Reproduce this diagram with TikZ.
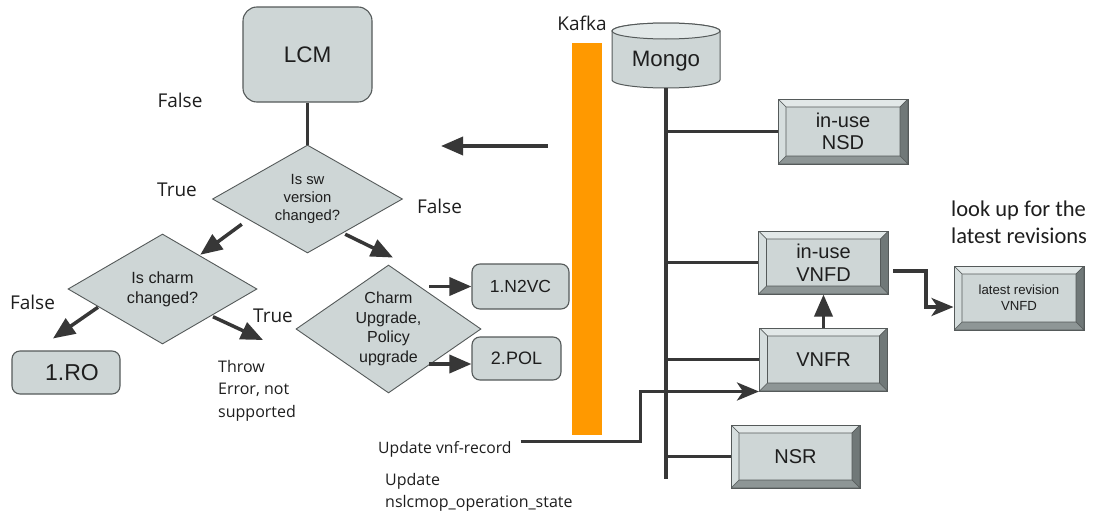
\documentclass[tikz,border=0pt]{standalone}
\usepackage{fontspec}
\setmainfont{Liberation Sans}
\newfontfamily\labelfont{Open Sans}
\newfontfamily\notefont{Carlito}
\usetikzlibrary{shapes.geometric,arrows.meta}

\definecolor{boxgray}{RGB}{206,214,214}
\definecolor{edgegray}{RGB}{85,90,90}
\definecolor{bevtop}{RGB}{226,232,232}
\definecolor{bevleft}{RGB}{214,222,222}
\definecolor{bevright}{RGB}{112,120,120}
\definecolor{bevbottom}{RGB}{142,150,150}
\definecolor{linegray}{RGB}{55,55,55}
\definecolor{kafkaorange}{RGB}{255,153,0}
\definecolor{textgray}{RGB}{30,30,30}

\tikzset{
  roundbox/.style={draw=edgegray, line width=1.1pt, fill=boxgray, rounded corners=8pt,
    inner sep=0pt, text=textgray},
  decision/.style={diamond, aspect=1.75, draw=edgegray, line width=0.9pt, fill=boxgray,
    inner sep=0pt, align=center, text=textgray},
  bevelbox/.style={draw=edgegray, line width=1pt, fill=boxgray, inner sep=0pt,
    align=center, text=textgray, font=\fontsize{20}{22}\selectfont,
    path picture={
      \coordinate (o1) at (path picture bounding box.north west);
      \coordinate (o2) at (path picture bounding box.north east);
      \coordinate (o3) at (path picture bounding box.south east);
      \coordinate (o4) at (path picture bounding box.south west);
      \coordinate (i1) at ([shift={(8pt,-8pt)}]o1);
      \coordinate (i2) at ([shift={(-8pt,-8pt)}]o2);
      \coordinate (i3) at ([shift={(-8pt,8pt)}]o3);
      \coordinate (i4) at ([shift={(8pt,8pt)}]o4);
      \filldraw[fill=bevtop, draw=edgegray, line width=.6pt] (o1) -- (o2) -- (i2) -- (i1) -- cycle;
      \filldraw[fill=bevright, draw=edgegray, line width=.6pt] (o2) -- (o3) -- (i3) -- (i2) -- cycle;
      \filldraw[fill=bevbottom, draw=edgegray, line width=.6pt] (o3) -- (o4) -- (i4) -- (i3) -- cycle;
      \filldraw[fill=bevleft, draw=edgegray, line width=.6pt] (o4) -- (o1) -- (i1) -- (i4) -- cycle;
    }},
  flowlabel/.style={font=\labelfont\fontsize{19}{23}\selectfont, text=textgray, inner sep=0pt},
  smalllabel/.style={font=\labelfont\fontsize{16}{22.5}\selectfont, text=textgray,
    inner sep=0pt, align=left},
  link/.style={draw=linegray, line width=3.5pt},
  arr/.style={link, -{Triangle[length=22pt,width=18pt]}},
  arrs/.style={link, -{Stealth[length=22pt,width=18pt,inset=6pt]}}
}

\begin{document}
\begin{tikzpicture}[x=1pt, y=-1pt]
    \useasboundingbox (0,0) rectangle (1093,514);
    \fill[white] (0,0) rectangle (1093,514);
    \node[roundbox, rounded corners=14pt, minimum width=129pt, minimum height=95pt,
      font=\fontsize{22.5}{26}\selectfont] (lcm) at (307.5,54.5) {LCM};
    \node[decision, minimum width=190pt, minimum height=108pt,
      font=\fontsize{14.8}{18}\selectfont] (swcheck) at (307.5,199) {Is sw\\version\\changed?};
    \node[decision, minimum width=189pt, minimum height=110pt,
      font=\fontsize{16.2}{20}\selectfont] (charmcheck) at (162.5,289) {Is charm\\changed?};
    \node[decision, aspect=1.45, minimum width=185pt, minimum height=128pt,
      font=\fontsize{16}{19.5}\selectfont] (upgrade) at (388.5,329) {Charm\\Upgrade,\\Policy\\upgrade};
    \node[roundbox, minimum width=108pt, minimum height=43pt,
      font=\fontsize{23}{26}\selectfont] (ro) at (66,372.5) {\hspace*{12pt}1.RO};
    \node[roundbox, minimum width=97pt, minimum height=45pt,
      font=\fontsize{17.5}{20}\selectfont] (n2vc) at (520.5,286.5) {1.N2VC};
    \node[roundbox, minimum width=89pt, minimum height=43pt,
      font=\fontsize{18}{20}\selectfont] (pol) at (516.5,358.5) {2.POL};

    \node[flowlabel] (falsetop) at (180,100.5) {False};
    \node[flowlabel] (truesw) at (177,190) {True};
    \node[flowlabel] (falsesw) at (439.5,206) {False};
    \node[flowlabel] (falsecharm) at (32.5,302) {False};
    \node[flowlabel] (truecharm) at (273,315.5) {True};
    \node[flowlabel] (kafkalabel) at (582,23.5) {Kafka};
    \node[smalllabel, anchor=north west] (throw) at (218,360) {Throw\\Error, not\\supported};
    \node[smalllabel, anchor=west, font=\labelfont\fontsize{15.7}{22}\selectfont]
      (updrec) at (378,449.5) {Update vnf-record};
    \node[smalllabel, anchor=north west, font=\labelfont\fontsize{16}{22}\selectfont]
      (updstate) at (385,473) {Update\\nslcmop\_operation\_state};
    \node[anchor=north west, align=left, inner sep=0pt, text=textgray,
      font=\notefont\fontsize{22.5}{27}\selectfont] (lookup) at (951,201) {look up for the\\latest revisions};

    \node[fill=kafkaorange, minimum width=30pt, minimum height=392pt, inner sep=0pt]
      (kafkabar) at (587,239) {};
    \filldraw[fill=boxgray, draw=edgegray, line width=1pt]
      (612,31) -- (612,80) arc[start angle=180, end angle=360, x radius=54pt, y radius=8pt]
      -- (720,31) arc[start angle=0, end angle=180, x radius=54pt, y radius=8pt] -- cycle;
    \filldraw[fill=bevtop, draw=edgegray, line width=1pt]
      (666,31) ellipse [x radius=54pt, y radius=8pt];
    \node[font=\fontsize{22.3}{26}\selectfont, text=textgray, minimum height=54pt, inner sep=0pt]
      (mongo) at (666,61) {Mongo};

    \node[bevelbox, minimum width=130pt, minimum height=65pt] (nsd) at (843,131.5) {in-use\\NSD};
    \node[bevelbox, minimum width=130pt, minimum height=63pt,
      font=\fontsize{20}{23}\selectfont] (vnfd) at (823.5,262.5) {in-use\\VNFD};
    \node[bevelbox, minimum width=128pt, minimum height=63pt] (vnfr) at (823.5,359.5) {VNFR};
    \node[bevelbox, minimum width=129pt, minimum height=63pt] (nsr) at (795.5,456.5) {NSR};
    \node[bevelbox, minimum width=130pt, minimum height=64pt,
      font=\fontsize{13.2}{16}\selectfont] (latest) at (1019,298) {latest revision\\VNFD};

    \draw[link] (lcm) -- (swcheck);
    \draw[arr] ([shift={(-18pt,2pt)}]swcheck.south west) -- ([shift={(-9.75pt,6.5pt)}]charmcheck.north east);
    \draw[arr] ([shift={(-10pt,-8pt)}]swcheck.south east) -- ([shift={(4.5pt,7pt)}]upgrade.north);
    \draw[arr] ([shift={(-17pt,9.5pt)}]charmcheck.south west) -- ([shift={(-13pt,12pt)}]ro.north);
    \draw[arr] ([xshift=3pt]charmcheck.south east) -- ([shift={(45pt,20pt)}]throw.north west);
    \draw[arr] ([xshift=-42pt]n2vc.west) -- (n2vc.west);
    \draw[arr] ([shift={(-42pt,-5.5pt)}]pol.west) -- ([yshift=-5.5pt]pol.west);
    \coordinate (kafkain) at (441,146);
    \draw[arr] ([shift={(-24pt,93pt)}]kafkabar.west) -- (kafkain);

    \coordinate (trunkend) at (666,479);
    \draw[link] (mongo.south) -- (trunkend);
    \foreach \leaf in {nsd,vnfd,vnfr,nsr}
      \draw[link] (mongo.south |- \leaf) -- (\leaf);
    \draw[arr] (vnfr.north) -- (vnfd.south);
    \draw[arrs] ([shift={(4pt,-8.5pt)}]vnfd.east) -- ++(33,0) |- ([yshift=-9pt]latest.west);
    \draw[arrs] ([shift={(9pt,8pt)}]updrec.east) -- ++(120,0) |- (vnfr.south west);
\end{tikzpicture}
\end{document}
